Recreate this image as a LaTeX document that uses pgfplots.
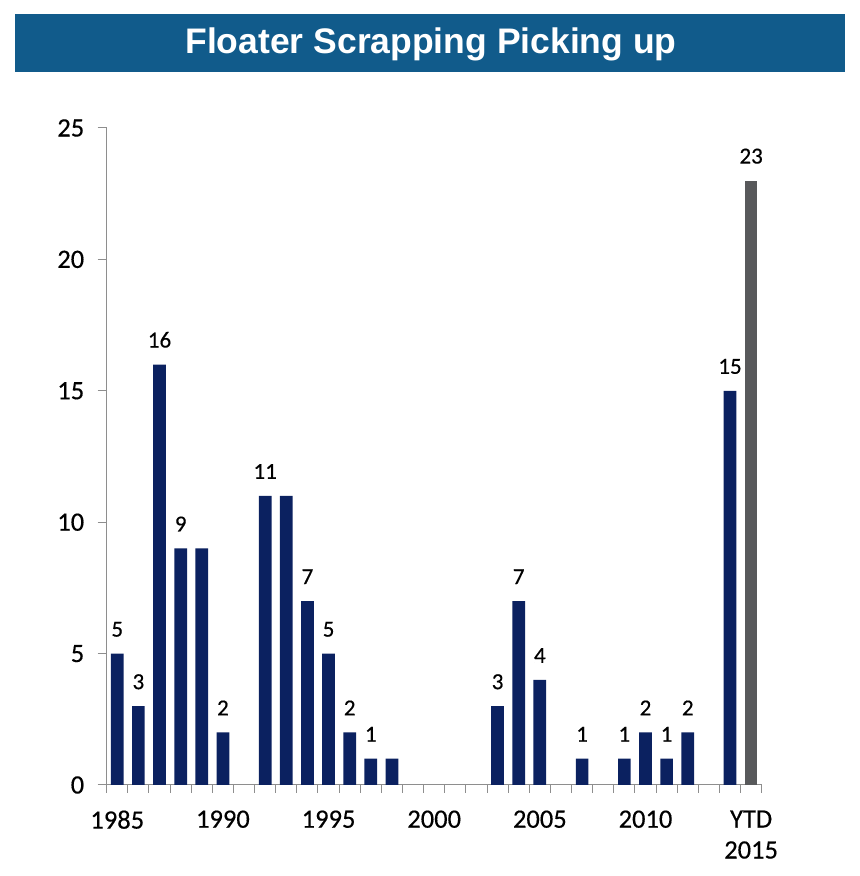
\documentclass[border=0pt]{standalone}
\usepackage{pgfplots}
\pgfplotsset{compat=1.18}
\usepackage{fontspec}
\setmainfont{Carlito}[FakeBold=0.4]
\newfontfamily\titlefont{Liberation Sans}

\definecolor{navy}{HTML}{0B2160}
\definecolor{bargray}{HTML}{58595B}
\definecolor{banner}{HTML}{115B8B}
\definecolor{axisgray}{HTML}{8E8E8E}

\begin{document}
\begin{tikzpicture}
\path[use as bounding box] (0bp,0bp) rectangle (860bp,876bp);
% title banner
\fill[banner] (15bp,804bp) rectangle (845bp,862bp);
\node[anchor=base, text=white, font=\titlefont\bfseries\fontsize{35.5bp}{40bp}\selectfont]
  at (431bp,822bp) {Floater Scrapping Picking up};

\begin{axis}[
    at={(106.7bp,91bp)}, anchor=south west,
    scale only axis, width=655bp, height=657bp,
    xmin=1984.5, xmax=2015.5, ymin=0, ymax=25,
    ybar, bar width=12.7bp, bar shift=0pt,
    axis x line*=bottom, axis y line*=left,
    axis line style={axisgray, line width=1bp},
    tick align=outside,
    tick style={axisgray, line width=1bp},
    major tick length=9bp, minor tick length=8bp,
    xtick={1985,1990,1995,2000,2005,2010,2015},
    xticklabels={1985,1990,1995,2000,2005,2010,{YTD\\2015}},
    minor xtick={1984.5,1985.5,...,2015.5},
    major x tick style={draw=none},
    ytick={0,5,...,25},
    /pgf/number format/assume math mode=true,
    ticklabel style={font=\fontsize{26.5bp}{31bp}\selectfont},
    xticklabel style={align=center, yshift=-13bp},
    yticklabel style={xshift=-10bp},
]
% yearly scrapping counts
\addplot[fill=navy, draw=none] coordinates {
    (1985,5) (1986,3) (1987,16) (1988,9) (1989,9) (1990,2)
    (1992,11) (1993,11) (1994,7) (1995,5) (1996,2) (1997,1) (1998,1)
    (2003,3) (2004,7) (2005,4) (2007,1)
    (2009,1) (2010,2) (2011,1) (2012,2) (2014,15)
};
% year to date 2015
\addplot[fill=bargray, draw=none] coordinates {(2015,23)};
% data labels (only the ones shown in the chart)
\addplot[draw=none, fill=none, nodes near coords,
    every node near coord/.append style={anchor=base, yshift=17bp,
        text=black, font=\fontsize{23bp}{25bp}\selectfont}]
  coordinates {
    (1985,5) (1986,3) (1987,16) (1988,9) (1990,2)
    (1992,11) (1994,7) (1995,5) (1996,2) (1997,1)
    (2003,3) (2004,7) (2005,4) (2007,1)
    (2009,1) (2010,2) (2011,1) (2012,2) (2014,15) (2015,23)
};
\end{axis}
\end{tikzpicture}
\end{document}
